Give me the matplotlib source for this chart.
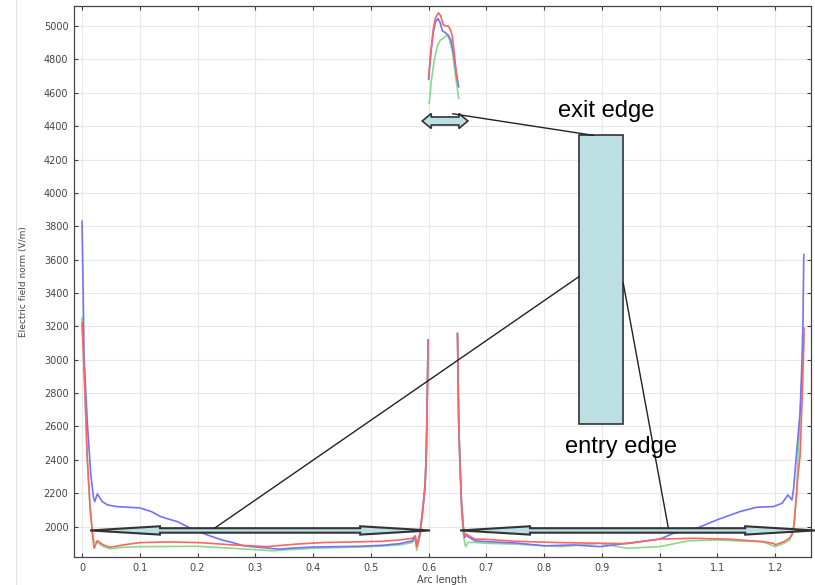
import numpy as np
import matplotlib
matplotlib.use("Agg")
import matplotlib.pyplot as plt
from matplotlib.patches import Polygon, Rectangle
from matplotlib.lines import Line2D

# ---- data (arc length, E-field norm in V/m) ----
# left part of the arc
blue_x1 = [0, 0.002, 0.0035, 0.0092, 0.015, 0.0196, 0.022, 0.0265, 0.035, 0.044, 0.06, 0.1, 0.12,
           0.136, 0.15, 0.165, 0.188, 0.217, 0.242, 0.26, 0.28, 0.3, 0.32, 0.34, 0.36, 0.4, 0.44,
           0.48, 0.52, 0.55, 0.572, 0.577, 0.5795, 0.585, 0.589, 0.592, 0.594, 0.596, 0.597, 0.598, 0.599]
blue_y1 = [3830, 3400, 3020, 2620, 2320, 2180, 2150, 2196, 2150, 2130, 2120, 2112, 2090,
           2060, 2045, 2030, 1990, 1950, 1920, 1905, 1885, 1878, 1872, 1865, 1870, 1878, 1880,
           1882, 1888, 1898, 1915, 1940, 1885, 1960, 2080, 2180, 2260, 2450, 2640, 2850, 3120]
red_x1 = [0, 0.005, 0.009, 0.0139, 0.0185, 0.0208, 0.0265, 0.037, 0.0485, 0.071, 0.1, 0.15, 0.204,
          0.262, 0.32, 0.37, 0.42, 0.47, 0.52, 0.55, 0.572, 0.577, 0.5795, 0.585, 0.589, 0.592,
          0.594, 0.596, 0.597, 0.598, 0.599]
red_y1 = [3220, 2820, 2420, 2120, 1940, 1870, 1916, 1890, 1876, 1890, 1904, 1908, 1904,
          1890, 1880, 1895, 1905, 1908, 1912, 1920, 1930, 1945, 1878, 1955, 2075, 2175,
          2255, 2445, 2635, 2845, 3118]
green_x1 = [0, 0.005, 0.009, 0.014, 0.0185, 0.0208, 0.0265, 0.037, 0.0485, 0.071, 0.1, 0.2, 0.26,
            0.3, 0.33, 0.36, 0.4, 0.45, 0.5, 0.55, 0.572, 0.577, 0.5795, 0.585, 0.589, 0.592,
            0.594, 0.596, 0.597, 0.598, 0.599]
green_y1 = [3250, 2800, 2400, 2100, 1960, 1905, 1905, 1880, 1868, 1876, 1880, 1882, 1870,
            1862, 1855, 1862, 1870, 1875, 1880, 1890, 1905, 1925, 1858, 1940, 2060, 2160,
            2240, 2430, 2620, 2830, 3100]

# top part (exit edge)
blue_x2 = [0.600, 0.604, 0.608, 0.612, 0.616, 0.620, 0.624, 0.629, 0.634, 0.638, 0.642, 0.647, 0.652]
blue_y2 = [4680, 4840, 4960, 5025, 5045, 5020, 4970, 4960, 4945, 4920, 4860, 4740, 4636]
red_x2 = [0.600, 0.604, 0.608, 0.612, 0.617, 0.621, 0.625, 0.629, 0.634, 0.638, 0.641, 0.645, 0.649]
red_y2 = [4696, 4850, 4980, 5050, 5079, 5060, 5010, 5000, 5000, 4975, 4940, 4820, 4676]
green_x2 = [0.601, 0.605, 0.610, 0.615, 0.620, 0.625, 0.630, 0.633, 0.637, 0.641, 0.646, 0.652]
green_y2 = [4536, 4680, 4800, 4880, 4915, 4925, 4940, 4945, 4910, 4850, 4720, 4566]

# right part of the arc
blue_x3 = [0.650, 0.651, 0.652, 0.654, 0.657, 0.660, 0.6625, 0.665, 0.668, 0.68, 0.7, 0.75, 0.8,
           0.85, 0.897, 0.943, 0.966, 1.0, 1.024, 1.064, 1.099, 1.139, 1.168, 1.197, 1.212, 1.222,
           1.229, 1.232, 1.236, 1.24, 1.243, 1.246, 1.248, 1.2495]
blue_y3 = [3158, 2900, 2640, 2400, 2140, 2000, 1935, 1950, 1940, 1915, 1910, 1902, 1885,
           1890, 1880, 1900, 1910, 1925, 1960, 1990, 2040, 2090, 2116, 2120, 2140, 2190,
           2160, 2230, 2400, 2560, 2680, 2960, 3200, 3630]
red_x3 = [0.650, 0.651, 0.652, 0.654, 0.657, 0.660, 0.6625, 0.665, 0.68, 0.693, 0.75, 0.828, 0.897,
          0.943, 1.0, 1.056, 1.12, 1.178, 1.197, 1.2, 1.215, 1.225, 1.229, 1.233, 1.237, 1.24,
          1.243, 1.246, 1.249, 1.25]
red_y3 = [3158, 2900, 2640, 2400, 2140, 2000, 1945, 1955, 1925, 1925, 1912, 1904, 1900,
          1898, 1925, 1930, 1925, 1910, 1900, 1890, 1910, 1932, 1950, 2020, 2200, 2330,
          2420, 2700, 3018, 3190]
green_x3 = [0.650, 0.652, 0.657, 0.660, 0.664, 0.668, 0.68, 0.7, 0.75, 0.83, 0.897, 0.943, 1.0,
            1.05, 1.1, 1.15, 1.178, 1.2, 1.215, 1.225, 1.232, 1.237, 1.24, 1.245, 1.25]
green_y3 = [3150, 2640, 2100, 1950, 1880, 1905, 1905, 1900, 1895, 1880, 1900, 1870, 1880,
            1915, 1920, 1912, 1910, 1880, 1900, 1920, 1990, 2200, 2450, 2800, 3150]

xticks = [0, 0.1, 0.2, 0.3, 0.4, 0.5, 0.6, 0.7, 0.8, 0.9, 1, 1.1, 1.2]
xtick_labels = ["0", "0.1", "0.2", "0.3", "0.4", "0.5", "0.6", "0.7", "0.8", "0.9", "1", "1.1", "1.2"]
yticks = list(range(2000, 5001, 200))

BLUE = "#7272ff"
RED = "#ff6464"
GREEN = "#86dc86"
TEAL = "#bbdfe2"
EDGE = "#333333"


def dbl_arrow(ax, x0, x1, y, shaft_h, head_h, head_l, lw=1.2):
    # double headed block arrow in data coords (horizontal only)
    verts = [
        (x0, y),
        (x0 + head_l, y + head_h / 2),
        (x0 + head_l, y + shaft_h / 2),
        (x1 - head_l, y + shaft_h / 2),
        (x1 - head_l, y + head_h / 2),
        (x1, y),
        (x1 - head_l, y - head_h / 2),
        (x1 - head_l, y - shaft_h / 2),
        (x0 + head_l, y - shaft_h / 2),
        (x0 + head_l, y - head_h / 2),
    ]
    p = Polygon(verts, closed=True, facecolor=TEAL, edgecolor=EDGE, lw=lw,
                clip_on=False, zorder=6)
    ax.add_patch(p)


fig = plt.figure(figsize=(8.15, 5.85), dpi=100)
ax = fig.add_axes([0.0908, 0.0479, 0.9043, 0.9418])

# thin border line of the original screenshot
fig.add_artist(Line2D([0.0196, 0.0196], [0, 1], transform=fig.transFigure,
                      color="#e2e2e2", lw=0.8))

for xs, ys in [(green_x1, green_y1), (green_x2, green_y2), (green_x3, green_y3)]:
    ax.plot(xs, ys, color=GREEN, lw=1.2, zorder=3)
for xs, ys in [(blue_x1, blue_y1), (blue_x2, blue_y2), (blue_x3, blue_y3)]:
    ax.plot(xs, ys, color=BLUE, lw=1.2, zorder=3)
for xs, ys in [(red_x1, red_y1), (red_x2, red_y2), (red_x3, red_y3)]:
    ax.plot(xs, ys, color=RED, lw=1.2, zorder=3)

ax.set_xlim(-0.0139, 1.262)
ax.set_ylim(1818, 5120)
ax.set_xticks(xticks)
ax.set_xticklabels(xtick_labels)
ax.set_yticks(yticks)
ax.grid(True, color="#e8e8e8", lw=0.8)
ax.set_axisbelow(True)
ax.tick_params(direction="in", length=3, width=0.8, top=True, right=True,
               labelsize=7, colors="#444444", pad=4)
for s in ax.spines.values():
    s.set_color("#444444")
    s.set_linewidth(0.9)
ax.set_xlabel("Arc length", fontsize=7, color="#444444", labelpad=2)
ax.set_ylabel("Electric field norm (V/m)", fontsize=6.5, color="#444444", labelpad=11)

# ---- annotations (drawn over the plot) ----
dbl_arrow(ax, 0.0139, 0.6026, 1977, 27, 50, 0.121, lw=1.5)
dbl_arrow(ax, 0.6545, 1.269, 1977, 27, 50, 0.121, lw=1.5)
dbl_arrow(ax, 0.589, 0.668, 4431, 48, 90, 0.0156, lw=1.2)

ax.add_patch(Rectangle((0.8606, 2615), 0.0762, 1733, facecolor=TEAL, edgecolor=EDGE,
                       lw=1.2, clip_on=False, zorder=6))

line_kw = dict(color="#222222", lw=1.0, clip_on=False, zorder=7)
ax.plot([0.642, 0.885], [4474, 4345], **line_kw)
ax.plot([0.230, 0.861], [1992, 3500], **line_kw)
ax.plot([0.937, 1.015], [3459, 1992], **line_kw)

txt_kw = dict(fontsize=17, family="Liberation Sans", color="black", ha="left",
              va="baseline", zorder=8)
ax.text(0.824, 4455, "exit edge", **txt_kw)
ax.text(0.8364, 2440, "entry edge", **txt_kw)

fig.savefig("out.png", dpi=100)
